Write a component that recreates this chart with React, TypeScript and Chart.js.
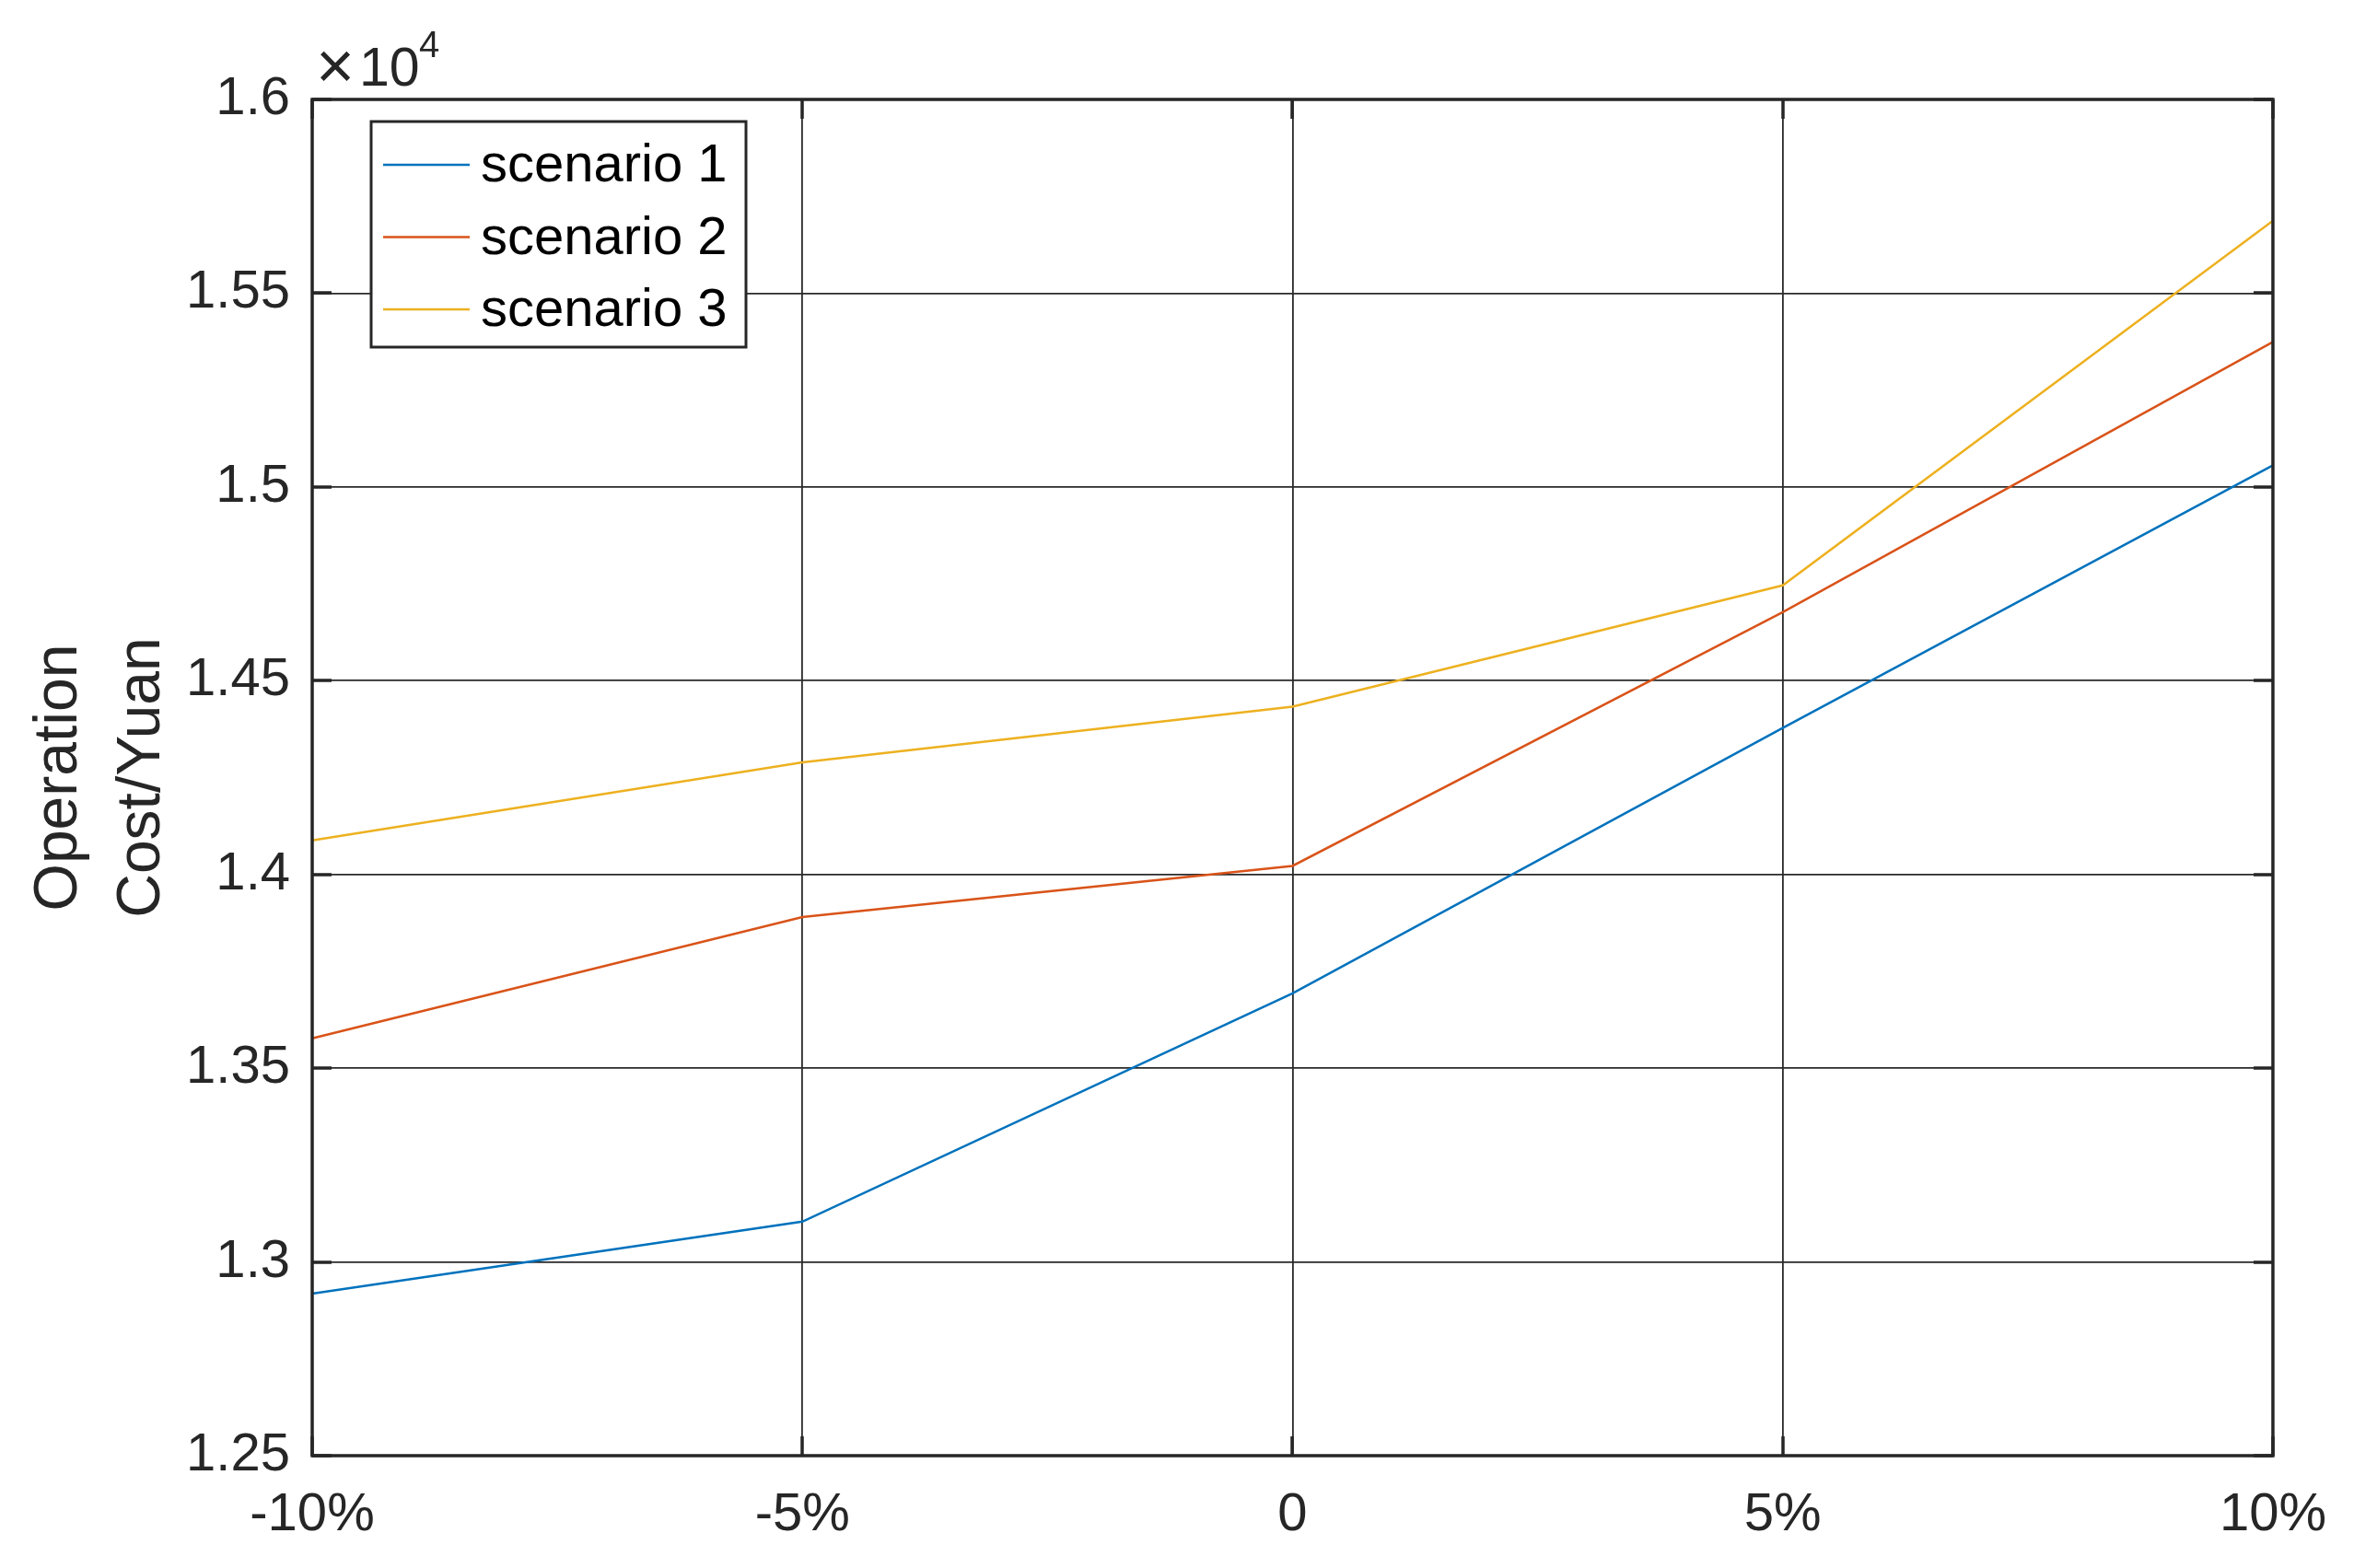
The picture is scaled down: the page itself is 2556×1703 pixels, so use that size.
import React, { useEffect, useRef } from 'react';
import { Chart, registerables } from 'chart.js';

Chart.register(...registerables);

const categories = ['-10%', '-5%', '0', '5%', '10%'];
const scenario1 = [12918, 13104, 13693, 14378, 15056];
const scenario2 = [13577, 13890, 14022, 14677, 15374];
const scenario3 = [14088, 14289, 14433, 14746, 15687];
const seriesNames = ['scenario 1', 'scenario 2', 'scenario 3'];
const seriesColors = ['#0072BD', '#D95319', '#EDB120'];
const yTickValues = [12500, 13000, 13500, 14000, 14500, 15000, 15500, 16000];
const yTickLabels = ['1.25', '1.3', '1.35', '1.4', '1.45', '1.5', '1.55', '1.6'];
const yAxisTitle = ['Operation', 'Cost/Yuan'];
const exponentTimes = '×';
const exponentBase = '10';
const exponentPower = '4';

const FONT = '"Liberation Sans", Arial, Helvetica, sans-serif';
const AXIS_COLOR = '#262626';

const boxPlugin = {
  id: 'matlabBox',
  afterDatasetsDraw(chart: any) {
    const { ctx, chartArea } = chart;
    const { left, right, top, bottom } = chartArea;
    ctx.save();
    ctx.strokeStyle = AXIS_COLOR;
    ctx.lineWidth = 3.5;
    // inward tick marks
    const tl = 21;
    const ys = chart.scales.y;
    ys.ticks.forEach((t: any) => {
      const py = Math.round(ys.getPixelForValue(t.value));
      ctx.beginPath();
      ctx.moveTo(left, py);
      ctx.lineTo(left + tl, py);
      ctx.moveTo(right, py);
      ctx.lineTo(right - tl, py);
      ctx.stroke();
    });
    const xs = chart.scales.x;
    xs.ticks.forEach((_t: any, i: number) => {
      const px = Math.round(xs.getPixelForTick(i));
      ctx.beginPath();
      ctx.moveTo(px, bottom);
      ctx.lineTo(px, bottom - tl);
      ctx.moveTo(px, top);
      ctx.lineTo(px, top + tl);
      ctx.stroke();
    });
    ctx.strokeRect(left, top, right - left, bottom - top);

    // legend
    const lx = 403, ly = 132, lw = 407, lh = 245;
    ctx.fillStyle = '#ffffff';
    ctx.fillRect(lx, ly, lw, lh);
    ctx.lineWidth = 3;
    ctx.strokeStyle = AXIS_COLOR;
    ctx.strokeRect(lx, ly, lw, lh);
    ctx.font = `58px ${FONT}`;
    ctx.textBaseline = 'middle';
    ctx.textAlign = 'left';
    chart.data.datasets.forEach((ds: any, i: number) => {
      const cy = 179 + i * 78.5;
      ctx.strokeStyle = ds.borderColor;
      ctx.lineWidth = 2.5;
      ctx.beginPath();
      ctx.moveTo(416, cy);
      ctx.lineTo(510, cy);
      ctx.stroke();
      ctx.fillStyle = '#000000';
      ctx.fillText(ds.label, 522, cy + 2);
    });

    // exponent
    ctx.fillStyle = AXIS_COLOR;
    ctx.textBaseline = 'alphabetic';
    ctx.font = `72px ${FONT}`;
    ctx.fillText(exponentTimes, 343, 96);
    ctx.font = `59px ${FONT}`;
    ctx.fillText(exponentBase, 390, 93);
    ctx.font = `40px ${FONT}`;
    ctx.fillText(exponentPower, 455, 62);
    ctx.restore();
  },
};

export default function App() {
  const ref = useRef<HTMLCanvasElement>(null);
  useEffect(() => {
    document.body.style.margin = '0';
    document.body.style.overflow = 'hidden';
    const canvas = ref.current!;
    const data = [scenario1, scenario2, scenario3];
    const chart = new Chart(canvas, {
      type: 'line',
      data: {
        labels: categories,
        datasets: data.map((d, i) => ({
          label: seriesNames[i],
          data: d,
          borderColor: seriesColors[i],
          backgroundColor: seriesColors[i],
          borderWidth: 2.5,
          pointRadius: 0,
          tension: 0,
          fill: false,
        })),
      },
      options: {
        animation: false,
        responsive: false,
        devicePixelRatio: 1,
        maintainAspectRatio: false,
        layout: { padding: { top: 108, right: 85, bottom: 0, left: 0 } },
        plugins: {
          legend: { display: false },
          tooltip: { enabled: false },
        },
        scales: {
          x: {
            type: 'category',
            offset: false,
            grid: { display: true, color: '#2a2a2a', lineWidth: 1.8, drawTicks: false },
            border: { display: false },
            ticks: {
              color: AXIS_COLOR,
              font: { family: FONT, size: 58 },
              padding: 30,
              maxRotation: 0,
              autoSkip: false,
            },
            afterFit: (s: any) => {
              s.height = 122;
            },
          },
          y: {
            min: 12500,
            max: 16000,
            grid: { display: true, color: '#2a2a2a', lineWidth: 1.8, drawTicks: false },
            border: { display: false },
            ticks: {
              stepSize: 500,
              color: AXIS_COLOR,
              font: { family: FONT, size: 58 },
              padding: 24,
              callback: (v: any) => {
                const idx = yTickValues.indexOf(Number(v));
                return idx >= 0 ? yTickLabels[idx] : '';
              },
            },
            title: {
              display: true,
              text: yAxisTitle,
              color: AXIS_COLOR,
              font: { family: FONT, size: 66, lineHeight: 1.364 },
              padding: { top: 20, bottom: 0 },
            },
            afterFit: (s: any) => {
              s.width = 339;
            },
          },
        },
      },
      plugins: [boxPlugin],
    });
    return () => chart.destroy();
  }, []);
  return (
    <div style={{ position: 'absolute', left: 0, top: 0, width: 2556, height: 1703, background: '#fff' }}>
      <canvas ref={ref} width={2556} height={1703} style={{ display: 'block', width: 2556, height: 1703 }} />
    </div>
  );
}
